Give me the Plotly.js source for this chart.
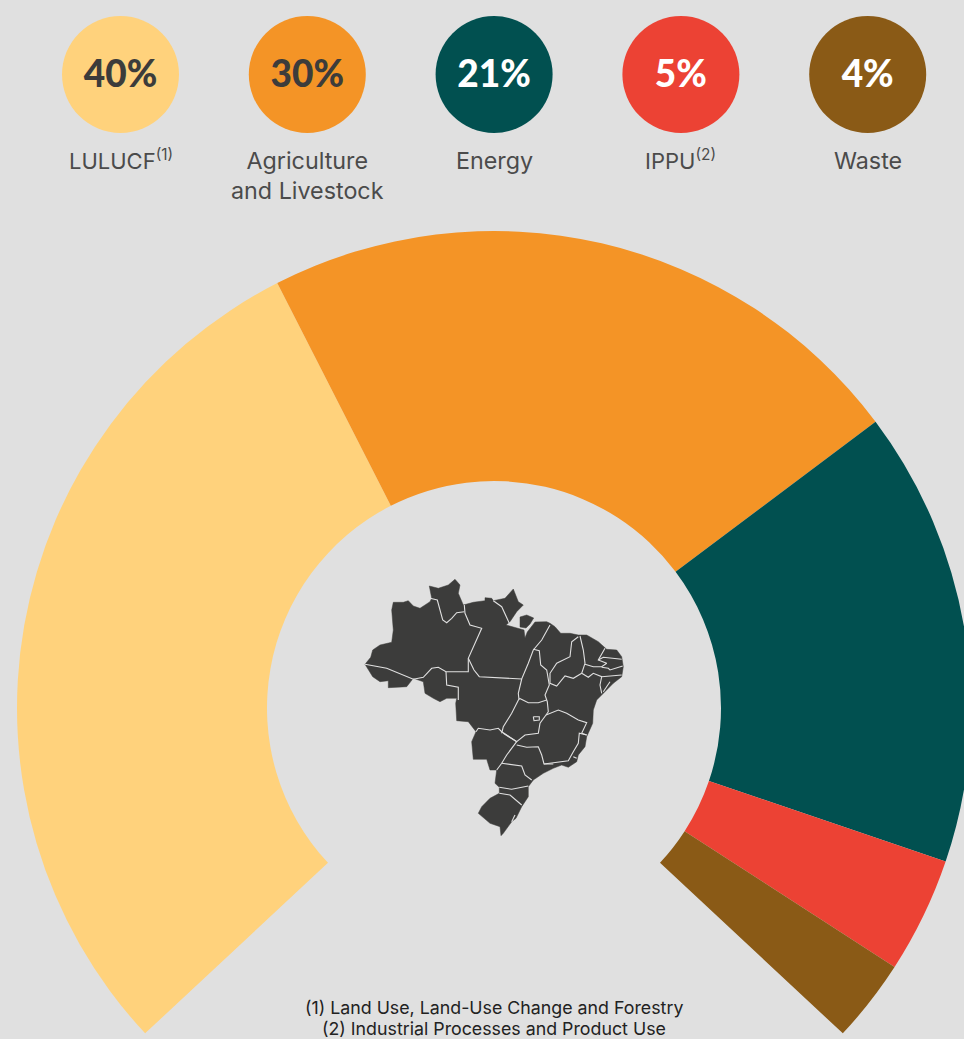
<!DOCTYPE html>
<html>
<head>
<meta charset="utf-8">
<script src="https://cdn.plot.ly/plotly-3.0.1.min.js"></script>
<style>
html,body{margin:0;padding:0;background:#e0e0e0;overflow:hidden;width:964px;height:1039px}
#frame{width:964px;height:1039px;overflow:hidden;position:relative}
#chart{width:1000px;height:1200px;position:absolute;left:0;top:0}
</style>
</head>
<body>
<div id="frame"><div id="chart"></div></div>
<script>
// ---- data ----
const categories = ["LULUCF", "Agriculture and Livestock", "Energy", "IPPU", "Waste"];
const shares = [39.8, 30.1, 20.9, 5.3, 3.8];   // slice sizes
const shareLabels = ["40%", "30%", "21%", "5%", "4%"];
const legendLabels = [
  'LULUCF<sup style="font-size:10px">(1)</sup>',
  "Agriculture<br>and Livestock",
  "Energy",
  'IPPU<sup style="font-size:10px">(2)</sup>',
  "Waste"
];
const legendSizes = [22, 23.3, 23.3, 22, 23.3];
const legendRows = [143, 144, 144, 143, 144];
const gapShare = 35.3; // the open bottom of the ring, in the same units as shares
const colors = ["#ffd27c", "#f49426", "#015050", "#ec4234", "#8a5a16"];
const labelColors = ["#3c3c3b", "#3c3c3b", "#ffffff", "#ffffff", "#ffffff"];
const footnotes = ["(1) Land Use, Land-Use Change and Forestry", "(2) Industrial Processes and Product Use"];
const footnoteRows = [1007.5, 1028];

// Brazil silhouette and state borders
const outlineX = [365,370.7,372.7,380,391.7,393.3,391.7,393.3,403.3,408.3,413.3,420,430,431.7,429.3,438.3,448.3,455,460,458.3,463.3,473.3,485,485,491.7,493.3,505,513.3,518.3,523.3,516.7,510,506,516.7,524,525,527.3,535,546.7,550,555,560.7,570,578.3,586.7,598.3,606.7,616.7,621.7,623.3,621.7,613.3,603.3,596.7,593.3,592.7,586.7,585,578.3,576.7,568.3,561.7,553.3,543.3,533.3,528.3,528.3,521.7,516,511.7,503.3,501,500,490,478.3,481.7,490,499.3,499.3,495,496.7,490,486.7,473.3,471.7,476,468.3,456.7,455.7,456.7,446.7,440,433.3,425,423.3,413.3,406.7,388.3,388.3,380,372.7,365,null,520,526.7,533.7,530,526,520,520];
const outlineY = [664.3,657.3,650,645,642.3,630,610,602.3,602.3,600.7,606,608.3,601.7,598.3,586,588.3,585,579.3,585,593.3,605,602.3,600.7,597.7,598.3,600.7,598.3,589,601.7,605,611.7,621.7,625,628,630,638,632,622,621.7,623.3,626.7,633.3,633.3,635,635,641.7,649.3,650,656.7,666.7,676.7,683.3,693.3,700,710,723.3,736.7,746.7,755,761.7,767.3,765,768.3,773.3,780,786.7,796.7,806.7,818.3,821.7,833.3,835.7,826.7,823.3,813.3,806.7,798.3,793.3,787.3,783.3,770,770,759.3,759.3,741.7,731.7,721.7,720.7,703.3,698.3,698.3,701.7,698.3,693.3,681.7,678.3,686.7,687.7,680.7,681.7,676.7,664.3,null,617,615,618,624,628,627,617];
const borderX = [365,386.7,413.3,423.3,431.7,438.3,446,468.3,468.3,481.7,470,465,464.3,null,430,437.3,442.7,446.7,451.7,456.7,464.3,null,446,446.7,458.3,458.3,null,493.3,501.7,509.3,null,468.3,474,479.3,521.7,528.3,533.3,541.7,550,null,533.3,539.3,540.7,546.7,549.3,545,546.7,547.3,548.3,546,null,578.3,571.7,570,556.7,550,550,556.7,565,573.3,581.7,null,580,583.3,585,581.7,588.3,593.3,601.7,600,601.7,null,585,593.3,601.7,606.7,598.3,605,null,598.3,603.3,621.7,null,601.7,608.3,610,622.7,null,601.7,621.7,null,610,603.3,null,521.7,518.3,519,519.3,511.7,503.3,501.7,null,519.3,528.3,538.3,546.7,null,546,558.3,566.7,578.3,586.7,581.7,586.7,null,546,540,538.3,525,516.7,503.3,null,476,478.3,490,498.3,501.7,516.7,506.7,501.7,496.7,null,516.7,526.7,538.3,541.7,544,553.3,null,544,568.3,573.3,578.3,579.3,586.7,null,573.3,576.7,null,501.7,521.7,525,531.7,null,499.3,511.7,528.3,null,499.3,510,521.7,null,533.3,539.3,539.3,534,533.3,null,515,511.7];
const borderY = [664.3,668.3,679.3,677.3,668.3,667.3,671.7,671.7,658.3,628.3,625,613.3,605,null,598.3,600,620,622.7,618.3,612.7,611.7,null,671.7,685,687.3,700,null,600.7,606.7,623.3,null,658.3,670,676.7,679,663.3,650,640,625,null,649.3,650.7,665,670,685,695,700,701.7,711.7,715,null,636.7,641.7,656.7,663.3,673.3,683.3,686,676,678.3,673.3,null,636,650,663.3,673.3,677.3,673.3,676.7,685,693.3,null,664.3,666.7,666.7,663.3,660,648.3,null,660,657.3,659.3,null,667.3,668.3,670,666,null,676.7,675,null,681.7,691.7,null,679,693.3,700,698.3,713.3,726.7,733.3,null,698.3,702.7,702.7,700,null,715,710,713.3,720,722.7,733.3,735,null,715,723.3,733.3,735,741.7,733.3,null,731.7,728.3,730,728.3,731.7,741.7,755,763.3,770,null,745,747.3,746.7,755,764,764,null,764,760.7,751.7,743.3,733.3,735,null,756.7,758.3,null,763.3,766,775,780,null,787.3,789.3,786,null,793.3,795,805,null,716.7,716.7,720,720.7,716.7,null,815,821.7];

// ---- layout constants ----
const W = 1000, H = 1200;
const cx = 494, cy = 708, R = 477, r = 227;
const bubbleLeft = 120.5, bubbleStep = 186.8, bubbleTop = 74.5, shareDrop = 3;
const font = "Inter, 'Noto Sans', sans-serif";

const traces = [
  {
    type: "pie", sort: false, direction: "clockwise", rotation: -133,
    labels: categories.concat(["gap"]), values: shares.concat([gapShare]),
    marker: {colors: colors.concat(["rgba(0,0,0,0)"]), line: {width: 0}},
    hole: r / R, textinfo: "none", hoverinfo: "label+percent", showlegend: false,
    domain: {x: [(cx - R) / W, (cx + R) / W], y: [1 - (cy + R) / H, 1 - (cy - R) / H]}
  },
  {
    type: "scatter", mode: "lines", x: outlineX, y: outlineY, xaxis: "x", yaxis: "y",
    fill: "toself", fillcolor: "#3c3c3b", line: {color: "#3c3c3b", width: 0.5},
    hoverinfo: "skip", showlegend: false
  },
  {
    type: "scatter", mode: "lines", x: borderX, y: borderY, xaxis: "x", yaxis: "y",
    line: {color: "#e0e0e0", width: 1.1}, hoverinfo: "skip", showlegend: false
  },
  {
    type: "scatter", mode: "markers", x: categories, y: categories.map(() => 0),
    xaxis: "x2", yaxis: "y2",
    marker: {size: 117, color: colors, line: {width: 0}},
    hoverinfo: "x", showlegend: false
  },
  {
    type: "scatter", mode: "text", x: categories, y: categories.map(() => -shareDrop),
    xaxis: "x2", yaxis: "y2",
    text: shareLabels,
    textposition: "middle center",
    textfont: {family: "Lato, Inter, sans-serif", size: 37, weight: 900, color: labelColors},
    hoverinfo: "skip", showlegend: false
  }
];

const hidden = {visible: false, fixedrange: true};
const layout = {
  width: W, height: H,
  margin: {l: 0, r: 0, t: 0, b: 0, pad: 0},
  paper_bgcolor: "#e0e0e0", plot_bgcolor: "rgba(0,0,0,0)",
  showlegend: false,
  xaxis: Object.assign({range: [0, W]}, hidden),
  yaxis: Object.assign({range: [H, 0]}, hidden),
  xaxis2: Object.assign({type: "category", categoryorder: "array", categoryarray: categories,
    range: [-bubbleLeft / bubbleStep, (W - bubbleLeft) / bubbleStep], overlaying: "x"}, hidden),
  yaxis2: Object.assign({range: [bubbleTop - H, bubbleTop], overlaying: "y"}, hidden),
  annotations: legendLabels.map((t, i) => ({
    text: t, x: i, y: -(legendRows[i] - bubbleTop), xref: "x2", yref: "y2",
    xanchor: "center", yanchor: "top", showarrow: false, align: "center",
    font: {family: font, size: legendSizes[i], color: "#4b4b4b"}
  })).concat(footnotes.map((t, i) => ({
    text: t, x: cx / W, y: 1 - footnoteRows[i] / H, xref: "paper", yref: "paper",
    xanchor: "center", yanchor: "middle", showarrow: false, align: "center",
    font: {family: font, size: 17.8, color: "#222222"}
  })))
};

Plotly.newPlot("chart", traces, layout, {displayModeBar: false, staticPlot: true});
</script>
</body>
</html>
